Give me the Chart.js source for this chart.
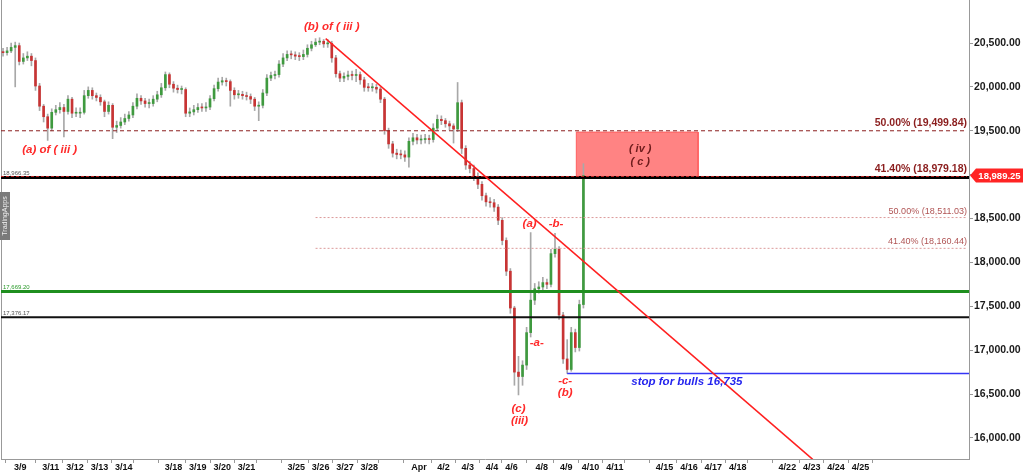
<!DOCTYPE html>
<html>
<head>
<meta charset="utf-8">
<script src="https://cdn.jsdelivr.net/npm/chart.js@4.4.0/dist/chart.umd.min.js"></script>
<style>
html,body{margin:0;padding:0;background:#fff}
</style>
</head>
<body>
<canvas id="chart" width="1024" height="473"></canvas>
<script>

/* DATA : 4 hour candles, x in session hours */

const firstOpen = 20400

const closes = [
20390,20410,20450,20470,20290,20330,20350,20300,20010,19780,
19660,19530,19710,19740,19765,19720,19860,19700,19700,19710,
19900,19960,19900,19880,19830,19720,19790,19540,19560,19600,
19640,19680,19780,19870,19840,19810,19810,19860,19910,19990,
20140,20030,19985,19970,19970,19700,19715,19740,19765,19760,
19770,19865,19980,20055,20070,20060,19960,19910,19915,19900,
19890,19860,19780,19790,19930,20100,20130,20140,20260,20330,
20370,20365,20350,20345,20370,20440,20480,20510,20520,20490,
20495,20330,20150,20100,20120,20135,20130,20140,20080,19995,
19990,19995,19975,19860,19500,19350,19245,19230,19225,19200,
19380,19420,19395,19400,19410,19400,19530,19630,19615,19580,
19555,19520,19820,19300,19110,19070,18980,18890,18760,18690,
18680,18630,18480,18250,17900,17480,16750,16700,16830,17200,
17570,17700,17720,17770,17750,18100,18150,17400,16900,16780,
17200,17030,17520,18989.25]

const highs = [
20440,20450,20500,20510,20500,20380,20400,20380,20330,20040,
19800,19690,19750,19790,19820,19800,19900,19880,19760,19760,
19960,20000,19990,19930,19910,19850,19830,19810,19610,19650,
19690,19720,19820,19920,19900,19870,19860,19900,19950,20040,
20170,20160,20060,20020,20010,19990,19760,19790,19810,19810,
19820,19900,20020,20100,20110,20100,20080,19990,19960,19950,
19940,19920,19880,19830,19970,20140,20170,20180,20300,20380,
20410,20410,20400,20390,20420,20480,20520,20550,20560,20540,
20540,20520,20360,20180,20160,20180,20180,20200,20170,20110,
20040,20040,20030,20000,19880,19530,19380,19290,19280,19270,
19420,19470,19460,19450,19460,19450,19580,19680,19670,19640,
19610,19580,20050,19850,19330,19150,19110,19020,18920,18790,
18740,18720,18660,18510,18280,17930,17500,16930,16880,17260,
18340,17760,17780,17830,17810,18150,18330,18180,17430,17120,
17260,17240,17570,19125]

const lows = [
20350,20360,20390,20000,20250,20260,20300,20240,19960,19730,
19600,19390,19500,19680,19700,19430,19690,19650,19660,19650,
19690,19870,19860,19840,19790,19660,19690,19410,19480,19530,
19570,19610,19650,19750,19800,19770,19760,19780,19830,19880,
19960,19990,19940,19930,19920,19660,19660,19680,19710,19720,
19720,19740,19840,19950,20020,20010,19780,19860,19870,19860,
19850,19810,19730,19615,19760,19900,20070,20090,20110,20230,
20300,20320,20310,20300,20310,20340,20410,20460,20480,20450,
20450,20280,20110,20060,20060,20080,20080,20060,20030,19950,
19950,19950,19930,19820,19460,19300,19200,19180,19180,19150,
19085,19340,19350,19350,19360,19350,19370,19500,19570,19540,
19510,19360,19490,19240,19060,19020,18930,18840,18710,18640,
18630,18580,18430,18200,17850,17420,16600,16490,16600,16780,
17150,17520,17650,17680,17700,17720,18060,17350,16850,16735,
16760,16980,16990,17480]

const dayTicks = [19,49,73,97,121,140,170,194,218,242,261,291,315,339,363,382,412,436,460,484,503,533,557,581,605,624,654,678,702,726,745,775,799,823,847]

const dayLabels = ['3/9','3/11','3/12','3/13','3/14','','3/18','3/19','3/20','3/21','','3/25','3/26','3/27','3/28','','Apr','4/2','4/3','4/4','4/6','4/8','4/9','4/10','4/11','','4/15','4/16','4/17','4/18','','4/22','4/23','4/24','4/25']

const priceTicks = [16000,16500,17000,17500,18000,18500,19000,19500,20000,20500]

const fibBig = [19499.84, 18979.18]
const fibBigText = ['50.00% (19,499.84)','41.40% (18,979.18)']
const fibSmall = [18511.03, 18160.44]
const fibSmallText = ['50.00% (18,511.03)','41.40% (18,160.44)']
const blackLevels = [18966.35, 17376.17]
const greenLevel = 17669.20
const stopLevel = 16735
const lastPrice = 18989.25

const trendX = [320, 800]
const trendY = [20550, 15755]

const zoneX = [567, 687]
const zoneY = [18979.18, 19485]

const xMax = 954

/* wave labels: text, hour, price */
const waveNotes = [
["(b) of ( iii )",326,20685],
["(a) of ( iii )",48,19287],
["(a)",521,18445],
["-b-",547,18445],
["-a-",528,17085],
["-c-",556,16652],
["(b)",556,16515],
["(c)",510,16330],
["(iii)",511,16197]
]


const hours = closes.map((c,i)=>2+i*4)
const opens = [firstOpen].concat(closes.slice(0,-1))

const green = "#3f9a3f"
const red = "#c83434"

const bodies = closes.map((c,i)=>({x:hours[i],y:[opens[i],c]}))
const wicks = closes.map((c,i)=>({x:hours[i],y:[lows[i],highs[i]]}))
const bodyColors = closes.map((c,i)=> c>=opens[i] ? green : red)

const fmt = v=>v.toLocaleString("en-US",{minimumFractionDigits:2,maximumFractionDigits:2})


function level(y,x0,x1,color,width,dash,order){

return {
type:"line",
data:[{x:x0,y:y},{x:x1,y:y}],
borderColor:color,
borderWidth:width,
borderDash:dash||[],
pointRadius:0,
fill:false,
order:order
}

}


const datasets = [

{
type:"line",
data:[
{x:zoneX[0],y:zoneY[0]},
{x:zoneX[0],y:zoneY[1]},
{x:zoneX[1],y:zoneY[1]},
{x:zoneX[1],y:zoneY[0]},
{x:zoneX[0],y:zoneY[0]}
],
borderColor:"#ff6060",
borderWidth:1,
backgroundColor:"rgba(255,100,100,0.8)",
fill:"shape",
pointRadius:0,
order:20
},

{
type:"bar",
data:wicks,
backgroundColor:"#a8a8a8",
barThickness:1,
grouped:false,
minBarLength:1,
order:15
},

{
type:"bar",
data:bodies,
backgroundColor:bodyColors,
barThickness:2,
grouped:false,
minBarLength:1,
order:14
},

level(blackLevels[0],0,xMax,"#000",3,[],9),
level(fibBig[1],0,xMax-2,"#c02020",1,[3,2],8),
level(fibBig[0],0,xMax-2,"#8b1e1e",1,[4,3],8),
level(fibSmall[0],310,xMax-2,"#dc9a9a",1,[2,2],8),
level(fibSmall[1],310,xMax-2,"#dc9a9a",1,[2,2],8),
level(greenLevel,0,xMax,"#1f8f1f",3,[],9),
level(blackLevels[1],0,xMax,"#111",2,[],9),
level(stopLevel,558,xMax,"#3535f5",1.5,[],9),

{
type:"line",
data:[{x:trendX[0],y:trendY[0]},{x:trendX[1],y:trendY[1]}],
borderColor:"#ff2020",
borderWidth:1.5,
pointRadius:0,
fill:false,
order:2
}

]


/* TEXT ON TOP */

const notesPlugin = {

id:"notes",

afterDatasetsDraw(chart){

const ctx = chart.ctx
const x = chart.scales.x
const y = chart.scales.y
const area = chart.chartArea

ctx.save()

ctx.textAlign = "center"
ctx.textBaseline = "middle"
ctx.fillStyle = "#ff2a2a"
ctx.font = 'bold italic 11.5px "Liberation Sans", Arial, sans-serif'

waveNotes.forEach(n=>{
ctx.fillText(n[0], x.getPixelForValue(n[1]), y.getPixelForValue(n[2]))
})

ctx.fillStyle = "#6e1c1c"
ctx.font = 'bold italic 11px "Liberation Sans", Arial, sans-serif'
const zx = x.getPixelForValue((zoneX[0]+zoneX[1])/2) + 3
ctx.fillText("( iv )", zx, y.getPixelForValue(19297))
ctx.fillText("( c )", zx, y.getPixelForValue(19140))

ctx.fillStyle = "#2424ee"
ctx.font = 'bold italic 11.5px "Liberation Sans", Arial, sans-serif'
ctx.fillText("stop for bulls 16,735", x.getPixelForValue(676), y.getPixelForValue(stopLevel)+8)

ctx.textAlign = "right"
ctx.textBaseline = "bottom"

ctx.fillStyle = "#8b1e1e"
ctx.font = 'bold 10.5px "Liberation Sans", Arial, sans-serif'
fibBig.forEach((v,i)=>{
ctx.fillText(fibBigText[i], area.right-2, y.getPixelForValue(v)-2)
})

ctx.fillStyle = "#b05454"
ctx.font = '9px "Liberation Sans", Arial, sans-serif'
fibSmall.forEach((v,i)=>{
ctx.fillText(fibSmallText[i], area.right-2, y.getPixelForValue(v)-2)
})

ctx.textAlign = "left"
ctx.font = '6px "Liberation Sans", Arial, sans-serif'
ctx.fillStyle = "#555"
ctx.fillText(fmt(blackLevels[0]), area.left+2, y.getPixelForValue(blackLevels[0])-1)
ctx.fillText(fmt(blackLevels[1]), area.left+2, y.getPixelForValue(blackLevels[1])-1)
ctx.fillStyle = "#2a9a2a"
ctx.fillText(fmt(greenLevel), area.left+2, y.getPixelForValue(greenLevel)-1)

/* last price tag */
const py = y.getPixelForValue(lastPrice)
const r = area.right
ctx.fillStyle = "#ff2424"
ctx.beginPath()
ctx.moveTo(r+1,py)
ctx.lineTo(r+7,py-7)
ctx.lineTo(1023,py-7)
ctx.lineTo(1023,py+7)
ctx.lineTo(r+7,py+7)
ctx.closePath()
ctx.fill()
ctx.fillStyle = "#fff"
ctx.textAlign = "center"
ctx.textBaseline = "middle"
ctx.font = 'bold 9.5px "Liberation Sans", Arial, sans-serif'
ctx.fillText(fmt(lastPrice), (r+7+1023)/2, py+1)

/* side tab */
ctx.fillStyle = "#7a7a7a"
ctx.fillRect(0,192,10,48)
ctx.translate(5,216)
ctx.rotate(-Math.PI/2)
ctx.fillStyle = "#eee"
ctx.font = '7px "Liberation Sans", Arial, sans-serif'
ctx.fillText("TradingApps",0,0)

ctx.restore()

}

}


const frame = {

id:"frame",

beforeDatasetsDraw(chart){

const ctx = chart.ctx
const a = chart.chartArea

ctx.save()
ctx.strokeStyle = "#999"
ctx.lineWidth = 1
ctx.beginPath()
ctx.moveTo(a.left+0.5,a.top)
ctx.lineTo(a.left+0.5,a.bottom)
ctx.stroke()
ctx.restore()

}

}


new Chart(

document.getElementById("chart"),

{

type:"bar",

data:{datasets:datasets},

options:{

responsive:false,
animation:false,
layout:{padding:{left:1}},

plugins:{
legend:{display:false},
tooltip:{enabled:false}
},

scales:{

x:{
type:"linear",
offset:false,
min:0,
max:xMax,
grid:{drawOnChartArea:false,tickLength:4,color:"#999"},
border:{color:"#999"},
afterBuildTicks(s){
s.ticks = dayTicks.map(v=>({value:v}))
},
afterFit(s){
s.height = 14
s.paddingLeft = 0
s.paddingRight = 0
},
ticks:{
autoSkip:false,
maxRotation:0,
padding:0,
color:"#111",
font:{family:"Liberation Sans",size:9,weight:"bold",lineHeight:1},
callback:(v,i)=>dayLabels[i]
}
},

y:{
position:"right",
min:15760,
max:20990,
grid:{drawOnChartArea:false,tickLength:4,color:"#999"},
border:{color:"#999"},
afterBuildTicks(s){
s.ticks = priceTicks.map(v=>({value:v}))
},
afterFit(s){
s.width = 55
s.paddingTop = 0
s.paddingBottom = 0
},
ticks:{
autoSkip:false,
padding:1,
color:"#1a1a1a",
font:{family:"Liberation Sans",size:10.5,weight:"bold"},
callback:v=>fmt(v)
}
}

}

},

plugins:[frame,notesPlugin]

}

)

</script>
</body>
</html>
